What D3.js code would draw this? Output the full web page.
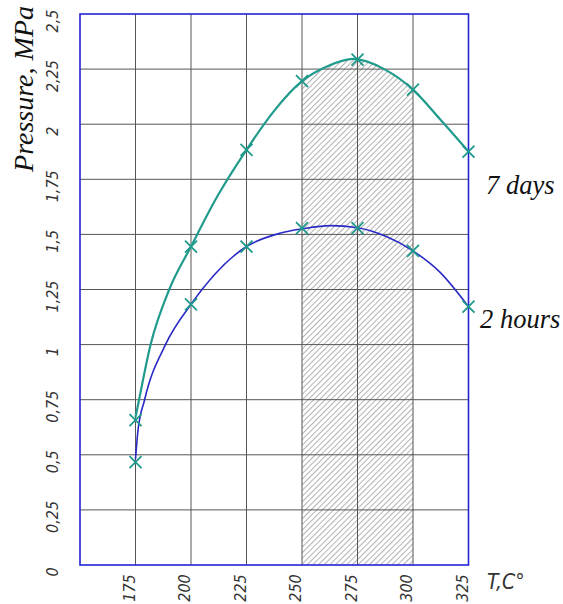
<!DOCTYPE html>
<html>
<head>
<meta charset="utf-8">
<script src="https://cdn.jsdelivr.net/npm/d3@7"></script>
<style>
  body { margin: 0; background: #fff; }
  .tick-label { font-family: "Liberation Sans Narrow", "DejaVu Sans Condensed", sans-serif; font-style: italic; fill: #333; }
  .serif-label { font-family: "Liberation Serif", "DejaVu Serif", serif; font-style: italic; fill: #111; }
</style>
</head>
<body>
<div class="content"></div>
<script>
// Ticks
const xTicks = [175, 200, 225, 250, 275, 300, 325];
const yTicks = [0, 0.25, 0.5, 0.75, 1, 1.25, 1.5, 1.75, 2, 2.25, 2.5];

// Measured points (markers)
const tempPoints = [175, 200, 225, 250, 275, 300, 325];
const days7 = [0.657, 1.445, 1.884, 2.195, 2.293, 2.157, 1.876];
const hours2 = [0.467, 1.183, 1.445, 1.528, 1.528, 1.425, 1.172];

// Fitted curves
const curve7T = [175, 176.6, 181.8, 190.2, 200, 212, 225, 237, 250, 262, 273, 287, 300, 312, 325];
const curve7P = [0.67, 0.75, 1.0, 1.25, 1.445, 1.675, 1.884, 2.055, 2.195, 2.265, 2.296, 2.25, 2.157, 2.025, 1.876];
const curve2T = [175, 176, 179.1, 188.5, 200, 225, 240, 250, 263, 275, 288, 300, 312, 325];
const curve2P = [0.48, 0.6, 0.75, 1.0, 1.183, 1.445, 1.505, 1.525, 1.54, 1.53, 1.49, 1.425, 1.33, 1.172];

// Shaded temperature range
const zone = [250, 300];

const W = 563, H = 604;
const svg = d3.select(".content").append("svg").attr("width", W).attr("height", H);

const x = d3.scaleLinear().domain([150, 325]).range([80, 468.5]);
const y = d3.scaleLinear().domain([0, 2.5]).range([565, 14]);

const teal = "#1f9a8c";
const blue = "#2a2ac4";

// Hatch pattern
const defs = svg.append("defs");
const pat = defs.append("pattern")
  .attr("id", "hatch").attr("patternUnits", "userSpaceOnUse")
  .attr("width", 4).attr("height", 4)
  .attr("patternTransform", "rotate(45)");
pat.append("line").attr("x1", 0).attr("y1", 0).attr("x2", 0).attr("y2", 4)
  .attr("stroke", "#666").attr("stroke-width", 1);

defs.append("clipPath").attr("id", "zoneClip")
  .append("rect")
  .attr("x", x(zone[0])).attr("y", y(2.5))
  .attr("width", x(zone[1]) - x(zone[0])).attr("height", y(0) - y(2.5));

const c7 = curve7T.map((t, i) => ({ t, p: curve7P[i] }));
const c2 = curve2T.map((t, i) => ({ t, p: curve2P[i] }));

const area = d3.area().x(d => x(d.t)).y0(y(0)).y1(d => y(d.p)).curve(d3.curveMonotoneX);
svg.append("path").datum(c7).attr("d", area)
  .attr("fill", "url(#hatch)").attr("clip-path", "url(#zoneClip)");

// Grid
svg.append("g").selectAll("line").data(yTicks.slice(1, -1)).join("line")
  .attr("x1", x(150)).attr("x2", x(325))
  .attr("y1", d => y(d)).attr("y2", d => y(d))
  .attr("stroke", "#555").attr("stroke-width", 1);
svg.append("g").selectAll("line").data(xTicks.slice(0, -1)).join("line")
  .attr("x1", d => x(d)).attr("x2", d => x(d))
  .attr("y1", y(0)).attr("y2", y(2.5))
  .attr("stroke", "#555").attr("stroke-width", 1);

// Frame
svg.append("rect")
  .attr("x", x(150)).attr("y", y(2.5))
  .attr("width", x(325) - x(150)).attr("height", y(0) - y(2.5))
  .attr("fill", "none").attr("stroke", "#2323d6").attr("stroke-width", 1.6);

// Curves
const line = d3.line().x(d => x(d.t)).y(d => y(d.p)).curve(d3.curveMonotoneX);
svg.append("path").datum(c2).attr("d", line)
  .attr("fill", "none").attr("stroke", blue).attr("stroke-width", 1.6);
svg.append("path").datum(c7).attr("d", line)
  .attr("fill", "none").attr("stroke", teal).attr("stroke-width", 2.2);

// Markers
const cross = (g, data) => {
  const s = 6;
  g.selectAll("path").data(data).join("path")
    .attr("d", d => `M${x(d.t) - s},${y(d.p) - s}L${x(d.t) + s},${y(d.p) + s}M${x(d.t) - s},${y(d.p) + s}L${x(d.t) + s},${y(d.p) - s}`)
    .attr("stroke", teal).attr("stroke-width", 1.8).attr("fill", "none");
};
cross(svg.append("g"), tempPoints.map((t, i) => ({ t, p: days7[i] })));
cross(svg.append("g"), tempPoints.map((t, i) => ({ t, p: hours2[i] })));

// Y tick labels
svg.append("g").selectAll("text").data(yTicks).join("text")
  .attr("class", "tick-label")
  .style("font-size", "16px")
  .attr("text-anchor", "middle")
  .attr("transform", d => `translate(58,${y(d) + 7}) rotate(-90)`)
  .text(d => String(d).replace(".", ","));

// X tick labels
svg.append("g").selectAll("text").data(xTicks).join("text")
  .attr("class", "tick-label")
  .style("font-size", "16px")
  .attr("text-anchor", "middle")
  .attr("transform", d => `translate(${x(d) - 1},588) rotate(-90)`)
  .text(d => d);

// Axis titles
svg.append("text").attr("class", "serif-label").style("font-size", "28px")
  .attr("text-anchor", "middle")
  .attr("transform", "translate(33,89) rotate(-90)")
  .text("Pressure, MPa");
svg.append("text").attr("class", "tick-label").style("font-size", "21px")
  .attr("x", 487).attr("y", 589).text("T,C°");

// Series labels
svg.append("text").attr("class", "serif-label").style("font-size", "26.5px")
  .attr("x", 486).attr("y", 194).text("7 days");
svg.append("text").attr("class", "serif-label").style("font-size", "26.5px")
  .attr("x", 480).attr("y", 328).text("2 hours");
</script>
</body>
</html>
